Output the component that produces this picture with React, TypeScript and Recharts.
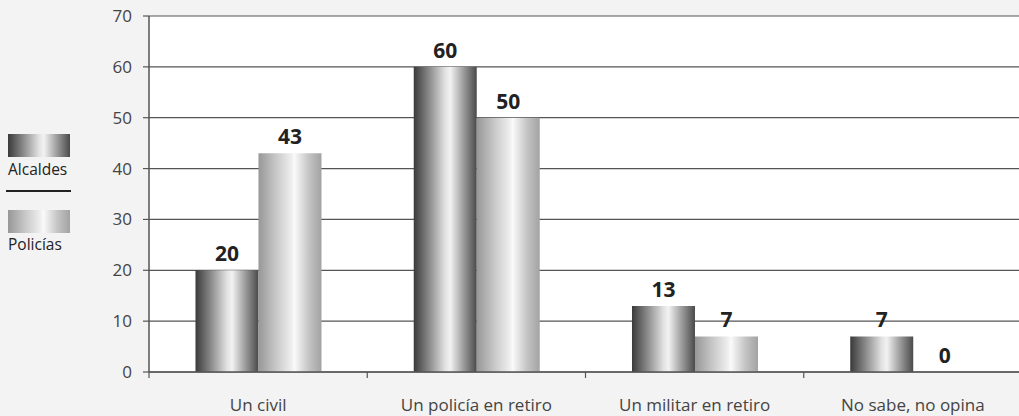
import React from 'react'
import { BarChart, Bar, XAxis, YAxis, CartesianGrid, LabelList } from 'recharts'

const categories = ['Un civil', 'Un policía en retiro', 'Un militar en retiro', 'No sabe, no opina']
const alcaldes = [20, 60, 13, 7]
const policias = [43, 50, 7, 0]
const yTicks = [0, 10, 20, 30, 40, 50, 60, 70]

const data = categories.map((name, i) => ({ name, alcaldes: alcaldes[i], policias: policias[i] }))

const FONT = '"Open Sans", "Noto Sans", sans-serif'

function GradientStops({ dark }: { dark: boolean }) {
  if (dark) {
    return (
      <>
        <stop offset="0%" stopColor="#3a3a3a" />
        <stop offset="25%" stopColor="#8c8c8c" />
        <stop offset="50%" stopColor="#e2e2e2" />
        <stop offset="58%" stopColor="#f2f2f2" />
        <stop offset="78%" stopColor="#a0a0a0" />
        <stop offset="100%" stopColor="#4a4a4a" />
      </>
    )
  }
  return (
    <>
      <stop offset="0%" stopColor="#979797" />
      <stop offset="28%" stopColor="#c8c8c8" />
      <stop offset="52%" stopColor="#eeeeee" />
      <stop offset="57%" stopColor="#fafafa" />
      <stop offset="80%" stopColor="#c4c4c4" />
      <stop offset="100%" stopColor="#a2a2a2" />
    </>
  )
}

// tiny min size so a zero bar still exists and gets its "0" label
const zeroSize = (v: any) => (v === 0 ? 0.01 : 0)

function ValueLabel(props: any) {
  const { x, y, width, value } = props
  if (value === undefined || value === null) return null
  return (
    <text
      x={Number(x) + Number(width) / 2}
      y={Number(y) - 9}
      textAnchor="middle"
      fontSize={21}
      fontWeight={700}
      fill="#222"
      fontFamily={FONT}
    >
      {String(value)}
    </text>
  )
}

function CategoryTick(props: any) {
  const { x, y, payload } = props
  const off = payload?.offset ?? 0
  return (
    <g>
      <line x1={x - off} x2={x - off} y1={y} y2={y + 6} stroke="#555" strokeWidth={1.2} />
      <text x={x} y={y + 39} textAnchor="middle" fill="#444" fontSize={17} fontFamily={FONT}>
        {payload.value}
      </text>
    </g>
  )
}

function SideLegend() {
  return (
    <svg width={80} height={260} style={{ position: 'absolute', left: 0, top: 0 }}>
      <defs>
        <linearGradient id="legA" x1="0" y1="0" x2="1" y2="0">
          <GradientStops dark />
        </linearGradient>
        <linearGradient id="legP" x1="0" y1="0" x2="1" y2="0">
          <GradientStops dark={false} />
        </linearGradient>
      </defs>
      <rect x={8} y={134} width={62} height={23} fill="url(#legA)" />
      <text x={8} y={175} fontSize={15.5} fill="#222" fontFamily={FONT}>Alcaldes</text>
      <line x1={6} x2={71} y1={191} y2={191} stroke="#222" strokeWidth={2} />
      <rect x={8} y={210} width={62} height={23} fill="url(#legP)" />
      <text x={8} y={250} fontSize={15.5} fill="#222" fontFamily={FONT}>Policías</text>
    </svg>
  )
}

export default function App() {
  return (
    <div
      style={{
        position: 'fixed',
        left: 0,
        top: 0,
        width: 1019,
        height: 416,
        background: '#f3f3f3',
        overflow: 'hidden',
      }}
    >
      <BarChart
        width={1022}
        height={416}
        data={data}
        margin={{ top: 16, right: 0, left: 0, bottom: 0 }}
        barCategoryGap="21.3%"
        barGap={0}
      >
        <defs>
          <linearGradient id="gradA" x1="0" y1="0" x2="1" y2="0">
            <GradientStops dark />
          </linearGradient>
          <linearGradient id="gradP" x1="0" y1="0" x2="1" y2="0">
            <GradientStops dark={false} />
          </linearGradient>
        </defs>
        <CartesianGrid vertical={false} stroke="#555" strokeWidth={1.2} fill="#fff" />
        <XAxis
          dataKey="name"
          height={44}
          axisLine={{ stroke: '#555', strokeWidth: 1.5 }}
          tickLine={false}
          tickSize={0}
          tickMargin={0}
          interval={0}
          tick={<CategoryTick />}
        />
        <YAxis
          width={149}
          domain={[0, 70]}
          ticks={yTicks}
          interval={0}
          axisLine={{ stroke: '#555', strokeWidth: 1.5 }}
          tickLine={{ stroke: '#555', strokeWidth: 1.2 }}
          tickSize={6}
          tickMargin={11}
          tick={{ fontSize: 17, fill: '#444', fontFamily: FONT }}
        />
        <Bar dataKey="alcaldes" fill="url(#gradA)" isAnimationActive={false}>
          <LabelList dataKey="alcaldes" content={<ValueLabel />} />
        </Bar>
        <Bar dataKey="policias" fill="url(#gradP)" minPointSize={zeroSize} isAnimationActive={false}>
          <LabelList dataKey="policias" content={<ValueLabel />} />
        </Bar>
      </BarChart>
      <SideLegend />
    </div>
  )
}
